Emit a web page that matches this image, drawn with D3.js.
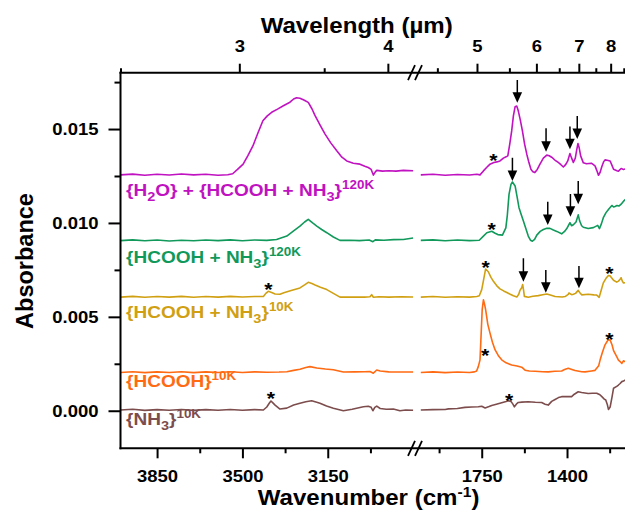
<!DOCTYPE html>
<html>
<head>
<meta charset="utf-8">
<script src="https://cdn.jsdelivr.net/npm/d3@7"></script>
<style>
  body { margin: 0; background: #fff; }
  svg { display: block; font-family: "Liberation Sans", Arial, sans-serif; font-weight: bold; }
</style>
</head>
<body>
<svg id="chart" width="625" height="513"></svg>
<script>
'use strict';

// ---- data (wavenumber cm-1, absorbance) ----
const h2oLeft = [[4000,.01256],[3950,.01260],[3900,.01254],[3850,.01259],[3800,.01255],[3750,.01261],[3700,.01256],[3650,.01259],[3600,.01254],[3560,.01257],[3540,.01262],[3520,.01285],[3497,.01313],[3477,.01360],[3457,.01410],[3436,.01480],[3416,.01544],[3398,.01570],[3380,.01589],[3356,.01606],[3332,.01624],[3305,.01643],[3290,.01660],[3278,.01667],[3264,.01664],[3248,.01655],[3230,.01642],[3215,.01608],[3202,.01571],[3182,.01522],[3161,.01473],[3137,.01425],[3113,.01384],[3092,.01350],[3072,.01330],[3045,.01318],[3018,.01313],[2998,.01302],[2984,.01295],[2972,.01285],[2963,.01255],[2955,.01272],[2949,.01280],[2925,.01276],[2900,.01278],[2870,.01276],[2840,.01280],[2800,.01278]];
const h2oRight = [[2000,.01256],[1950,.01259],[1900,.01254],[1850,.01258],[1800,.01255],[1770,.01259],[1757,.01256],[1743,.01277],[1730,.01295],[1716,.01313],[1700,.01322],[1688,.01325],[1675,.01330],[1661,.01345],[1650,.01352],[1643,.01357],[1635,.01420],[1627,.01490],[1620,.01570],[1613,.01619],[1606,.01622],[1600,.01597],[1592,.01550],[1583,.01490],[1574,.01420],[1565,.01366],[1556,.01320],[1548,.01286],[1540,.01272],[1532,.01268],[1522,.01285],[1511,.01313],[1497,.01345],[1483,.01361],[1473,.01358],[1463,.01350],[1450,.01335],[1436,.01322],[1425,.01310],[1415,.01298],[1405,.01312],[1397,.01330],[1388,.01370],[1381,.01345],[1374,.01322],[1366,.01345],[1360,.01390],[1355,.01423],[1350,.01400],[1344,.01357],[1333,.01320],[1320,.01315],[1300,.01318],[1285,.01304],[1278,.01280],[1271,.01254],[1264,.01270],[1257,.01300],[1250,.01325],[1244,.01336],[1235,.01334],[1223,.01330],[1215,.01305],[1209,.01286],[1195,.01278],[1189,.01276],[1178,.01290],[1168,.01285],[1160,.01288]];

const mix120Left = [[4000,.00906],[3950,.00910],[3900,.00905],[3850,.00909],[3800,.00904],[3750,.00908],[3700,.00905],[3650,.00909],[3600,.00906],[3550,.00910],[3500,.00905],[3450,.00909],[3400,.00907],[3360,.00912],[3318,.00930],[3290,.00958],[3264,.00983],[3245,.01005],[3230,.01019],[3212,.01000],[3195,.00983],[3175,.00965],[3154,.00948],[3127,.00925],[3100,.00907],[3060,.00908],[3020,.00906],[2980,.00909],[2965,.00900],[2955,.00910],[2920,.00908],[2880,.00911],[2840,.00912],[2800,.00920]];
const mix120Right = [[2000,.00907],[1950,.00910],[1900,.00905],[1850,.00909],[1800,.00906],[1760,.00908],[1743,.00930],[1729,.00948],[1709,.00956],[1695,.00945],[1684,.00938],[1665,.00935],[1651,.00974],[1645,.01040],[1638,.01152],[1630,.01205],[1624,.01218],[1613,.01197],[1605,.01140],[1597,.01081],[1588,.01045],[1579,.01010],[1570,.00975],[1559,.00930],[1550,.00908],[1542,.00903],[1533,.00912],[1524,.00935],[1510,.00955],[1497,.00965],[1483,.00972],[1470,.00971],[1456,.00962],[1442,.00955],[1422,.00942],[1410,.00955],[1401,.00970],[1388,.01001],[1381,.00985],[1374,.00990],[1363,.01005],[1354,.01043],[1348,.01010],[1340,.00985],[1333,.00977],[1313,.00970],[1292,.00975],[1274,.00987],[1267,.00970],[1259,.00995],[1251,.01028],[1240,.01055],[1230,.01072],[1216,.01093],[1209,.01085],[1203,.01088],[1195,.01093],[1187,.01090],[1178,.01100],[1168,.01116],[1160,.01125]];

const mix10Left = [[4000,.00605],[3950,.00609],[3900,.00604],[3850,.00608],[3800,.00605],[3750,.00609],[3700,.00604],[3650,.00608],[3600,.00605],[3550,.00609],[3500,.00606],[3450,.00608],[3414,.00608],[3404,.00625],[3394,.00636],[3380,.00630],[3366,.00622],[3346,.00620],[3330,.00628],[3300,.00640],[3264,.00654],[3245,.00670],[3230,.00684],[3215,.00678],[3202,.00670],[3180,.00658],[3154,.00645],[3127,.00625],[3100,.00605],[3050,.00606],[3000,.00605],[2977,.00607],[2970,.00618],[2963,.00604],[2940,.00607],[2900,.00605],[2850,.00607],[2800,.00606]];
const mix10Right = [[2000,.00605],[1950,.00608],[1900,.00604],[1850,.00607],[1800,.00605],[1770,.00608],[1760,.00612],[1750,.00645],[1742,.00700],[1734,.00755],[1723,.00740],[1712,.00710],[1702,.00689],[1688,.00665],[1675,.00649],[1660,.00638],[1647,.00630],[1633,.00620],[1620,.00612],[1606,.00606],[1598,.00620],[1593,.00641],[1586,.00655],[1582,.00672],[1578,.00640],[1575,.00609],[1559,.00604],[1540,.00610],[1518,.00613],[1500,.00618],[1483,.00622],[1465,.00615],[1449,.00608],[1420,.00606],[1408,.00608],[1395,.00620],[1392,.00627],[1381,.00618],[1374,.00620],[1365,.00625],[1354,.00641],[1348,.00630],[1340,.00617],[1313,.00620],[1290,.00617],[1278,.00616],[1268,.00604],[1260,.00640],[1251,.00681],[1240,.00705],[1230,.00720],[1223,.00718],[1209,.00695],[1196,.00685],[1189,.00690],[1182,.00700],[1178,.00708],[1173,.00690],[1168,.00680],[1160,.00682]];

const hcoohLeft = [[4000,.00204],[3950,.00208],[3900,.00203],[3850,.00207],[3800,.00204],[3750,.00208],[3700,.00203],[3650,.00207],[3600,.00204],[3550,.00208],[3500,.00204],[3450,.00207],[3400,.00205],[3350,.00206],[3318,.00208],[3290,.00215],[3264,.00221],[3240,.00230],[3223,.00235],[3195,.00228],[3160,.00222],[3127,.00218],[3100,.00210],[3086,.00206],[3040,.00207],[3000,.00208],[2977,.00209],[2963,.00200],[2949,.00217],[2935,.00212],[2900,.00207],[2850,.00206],[2800,.00206]];
const hcoohRight = [[2000,.00204],[1950,.00207],[1900,.00203],[1850,.00206],[1800,.00204],[1780,.00207],[1771,.00212],[1764,.00235],[1757,.00271],[1752,.00420],[1748,.00540],[1743,.00591],[1738,.00565],[1734,.00538],[1725,.00460],[1716,.00413],[1706,.00365],[1695,.00324],[1680,.00290],[1668,.00271],[1650,.00255],[1627,.00244],[1605,.00238],[1586,.00232],[1572,.00216],[1555,.00212],[1531,.00210],[1500,.00208],[1477,.00207],[1450,.00210],[1422,.00212],[1410,.00220],[1395,.00226],[1380,.00220],[1367,.00214],[1340,.00208],[1326,.00207],[1300,.00212],[1285,.00215],[1270,.00240],[1264,.00271],[1255,.00310],[1244,.00351],[1235,.00370],[1230,.00378],[1223,.00376],[1215,.00350],[1209,.00320],[1196,.00288],[1189,.00270],[1182,.00262],[1175,.00252],[1168,.00266],[1160,.00260]];

const nh3Left = [[4000,.00004],[3950,.00008],[3900,.00002],[3850,.00006],[3800,.00003],[3750,.00007],[3700,.00002],[3650,.00006],[3600,.00003],[3550,.00007],[3500,.00003],[3450,.00006],[3414,.00004],[3400,.00020],[3390,.00040],[3383,.00052],[3375,.00042],[3366,.00030],[3346,.00009],[3318,.00014],[3290,.00030],[3264,.00040],[3240,.00048],[3216,.00053],[3195,.00045],[3182,.00040],[3155,.00025],[3127,.00013],[3086,.00000],[3050,.00008],[3004,.00021],[2984,.00024],[2972,.00018],[2965,.00000],[2957,.00018],[2949,.00025],[2935,.00012],[2910,.00008],[2881,.00009],[2854,.00000],[2830,.00004],[2800,.00003]];
const nh3Right = [[2000,.00004],[1950,.00006],[1900,.00007],[1887,.00010],[1850,.00012],[1819,.00018],[1790,.00020],[1764,.00021],[1750,.00024],[1736,.00015],[1720,.00022],[1709,.00028],[1690,.00035],[1668,.00043],[1650,.00049],[1641,.00053],[1630,.00050],[1622,.00035],[1616,.00021],[1608,.00035],[1600,.00044],[1585,.00046],[1559,.00048],[1530,.00045],[1504,.00044],[1490,.00035],[1477,.00030],[1463,.00050],[1449,.00060],[1435,.00070],[1422,.00075],[1400,.00076],[1381,.00075],[1370,.00088],[1354,.00101],[1340,.00097],[1313,.00092],[1296,.00093],[1278,.00093],[1265,.00085],[1257,.00075],[1247,.00062],[1241,.00057],[1235,.00035],[1230,.00007],[1223,.00020],[1215,.00075],[1209,.00120],[1196,.00130],[1189,.00137],[1182,.00145],[1175,.00155],[1168,.00158],[1160,.00165]];

const seriesColors = ["#c012c0", "#11995b", "#d0a012", "#ff6a12", "#7d4d4d"];
const seriesLabels = [
    [["{H",""],["2","sub"],["O} + {HCOOH + NH",""],["3","sub"],["}",""],["120K","sup"]],
    [["{HCOOH + NH",""],["3","sub"],["}",""],["120K","sup"]],
    [["{HCOOH + NH",""],["3","sub"],["}",""],["10K","sup"]],
    [["{HCOOH}",""],["10K","sup"]],
    [["{NH",""],["3","sub"],["}",""],["10K","sup"]],
];

// stars: [wavenumber, absorbance, panel]
const stars = [[3394,.00669,"L"],[3383,.00084,"L"],[1702,.01353,"R"],[1709,.00989,"R"],[1734,.00785,"R"],[1226,.00753,"R"],[1736,.00314,"R"],[1226,.00403,"R"],[1637,.00078,"R"]];
// arrows: [wavenumber, top, tip]
const arrows = [[1604,.01761,.01640],[1486,.01504,.01379],[1388,.01513,.01392],[1358,.01569,.01447],
                [1624,.01347,.01223],[1479,.01113,.00989],[1386,.01154,.01033],[1354,.01223,.01099],
                [1579,.00812,.00687],[1487,.00749,.00628],[1351,.00771,.00652]];

const leftMajor = [3850, 3500, 3150], leftMinor = [3675, 3325, 2975];
const rightMajor = [1750, 1400], rightMinor = [1925, 1575, 1225];
const topMajorUm = [3, 4, 5, 6, 7, 8], topMinorUm = [2.5, 3.5, 4.5, 5.5, 6.5, 7.5, 8.5];
const yMajor = [0, 0.005, 0.010, 0.015], yMinor = [0.0025, 0.0075, 0.0125, 0.0175];

(() => {
    const SX = 1.12; // the reference text is a little wide
    const svg = d3.select("#chart");
    const frame = {left: 120.5, right: 626, top: 72.7, bottom: 448.3};

    const y = d3.scaleLinear().domain([-0.002, 0.018]).range([frame.bottom, frame.top]);
    const xL = d3.scaleLinear().domain([4000, 2800]).range([frame.left, 413.1]);
    const xR = d3.scaleLinear().domain([2000, 1160]).range([420.8, 625.5]);
    const xTop = d3.scaleLinear().domain([4000, 1160]).range([frame.left, 626.7]);

    const series = [
        [h2oLeft, h2oRight], [mix120Left, mix120Right], [mix10Left, mix10Right],
        [hcoohLeft, hcoohRight], [nh3Left, nh3Right],
    ];
    const labelDy = [21, 22.3, 21, 14.4, 15];

    // spectra
    series.forEach(([L, R], i) => {
        [[L, xL], [R, xR]].forEach(([data, xs]) => {
            svg.append("path")
                .attr("fill", "none")
                .attr("stroke", seriesColors[i])
                .attr("stroke-width", 1.6)
                .attr("stroke-linejoin", "round")
                .attr("d", d3.line().x(d => xs(d[0])).y(d => y(d[1]))(data));
        });
        const t = svg.append("text")
            .attr("fill", seriesColors[i])
            .attr("font-size", 17)
            .attr("transform", `translate(126,${y(L[0][1]) + labelDy[i]}) scale(${SX},1)`);
        let shift = 0;
        seriesLabels[i].forEach(([txt, kind]) => {
            const target = kind == "sub" ? 5 : kind == "sup" ? -6.8 : 0;
            t.append("tspan")
                .attr("dy", target - shift)
                .attr("font-size", kind == "sub" ? 13 : kind == "sup" ? 12 : 17)
                .text(txt);
            shift = target;
        });
    });

    // stars and arrows
    svg.selectAll(".star").data(stars).enter().append("text")
        .attr("class", "star")
        .attr("text-anchor", "middle")
        .attr("font-size", 19)
        .attr("transform", d => `translate(${(d[2] == "L" ? xL : xR)(d[0])},${y(d[1]) + 10.5}) scale(${SX},1)`)
        .text("*");
    const ag = svg.selectAll(".arrow").data(arrows).enter().append("g").attr("class", "arrow");
    ag.append("line")
        .attr("x1", d => xR(d[0])).attr("x2", d => xR(d[0]))
        .attr("y1", d => y(d[1])).attr("y2", d => y(d[2]) - 8)
        .attr("stroke", "#000").attr("stroke-width", 1.5);
    ag.append("path")
        .attr("fill", "#000")
        .attr("d", d => {
            const x = xR(d[0]), t = y(d[2]);
            return `M${x},${t}L${x - 4.8},${t - 10.5}L${x + 4.8},${t - 10.5}Z`;
        });

    // frame
    const lines = [
        [frame.left, frame.top, frame.left, frame.bottom],
        [frame.left, frame.top, frame.right, frame.top],
        [frame.left, frame.bottom, frame.right, frame.bottom],
    ];
    lines.forEach(l => svg.append("line")
        .attr("x1", l[0]).attr("y1", l[1]).attr("x2", l[2]).attr("y2", l[3])
        .attr("stroke", "#000").attr("stroke-width", 2).attr("stroke-linecap", "square"));

    function styleAxis(g) {
        g.select(".domain").remove();
        g.selectAll("line").attr("stroke", "#000").attr("stroke-width", 2);
        g.selectAll("text").attr("font-size", 16.5).attr("font-family", null).attr("fill", "#000");
    }

    // bottom axes
    [[xL, leftMajor, leftMinor], [xR, rightMajor, rightMinor]].forEach(([xs, maj, min]) => {
        svg.append("g").attr("transform", `translate(0,${frame.bottom})`)
            .call(d3.axisBottom(xs).tickValues(maj).tickSize(10).tickPadding(11.6).tickSizeOuter(0).tickFormat(d3.format("d")))
            .call(styleAxis)
            .selectAll("text").attr("dy", "0.71em").attr("transform", `scale(${SX},1)`);
        svg.append("g").attr("transform", `translate(0,${frame.bottom})`)
            .call(d3.axisBottom(xs).tickValues(min).tickSize(5).tickFormat(""))
            .call(styleAxis);
    });

    // top axis, wavelength in µm
    svg.append("g").attr("transform", `translate(0,${frame.top})`)
        .call(d3.axisTop(xTop).tickValues(topMajorUm.map(u => 1e4 / u)).tickSize(9).tickPadding(12)
            .tickFormat((d, i) => topMajorUm[i]))
        .call(styleAxis)
        .selectAll("text").attr("transform", `scale(${SX},1)`);
    svg.append("g").attr("transform", `translate(0,${frame.top})`)
        .call(d3.axisTop(xTop).tickValues(topMinorUm.map(u => 1e4 / u)).tickSize(4.5).tickFormat(""))
        .call(styleAxis);

    // left axis
    svg.append("g").attr("transform", `translate(${frame.left},0)`)
        .call(d3.axisLeft(y).tickValues(yMajor).tickSize(12).tickFormat(d3.format(".3f")))
        .call(styleAxis)
        .selectAll("text").attr("x", -22 / SX).attr("dy", "0.34em").attr("transform", `scale(${SX},1)`);
    svg.append("g").attr("transform", `translate(${frame.left},0)`)
        .call(d3.axisLeft(y).tickValues(yMinor).tickSize(6).tickFormat(""))
        .call(styleAxis);

    // axis break marks
    [frame.top, frame.bottom].forEach(yy => {
        [411.5, 418.5].forEach(xx => {
            svg.append("line")
                .attr("x1", xx - 3.5).attr("y1", yy + 7.5)
                .attr("x2", xx + 3.5).attr("y2", yy - 7.5)
                .attr("stroke", "#000").attr("stroke-width", 1.8);
        });
    });

    // titles
    svg.append("text")
        .attr("text-anchor", "middle").attr("font-size", 21.5)
        .attr("transform", `translate(356.7,33) scale(${SX},1)`)
        .text("Wavelength (µm)");
    const xt = svg.append("text")
        .attr("text-anchor", "middle").attr("font-size", 21.5)
        .attr("transform", `translate(368.6,505) scale(${SX},1)`);
    xt.append("tspan").text("Wavenumber (cm");
    xt.append("tspan").attr("font-size", 14).attr("dy", -8.5).text("-1");
    xt.append("tspan").attr("dy", 8.5).text(")");
    svg.append("text")
        .attr("text-anchor", "middle").attr("font-size", 23.5)
        .attr("transform", "translate(33,261) rotate(-90)")
        .text("Absorbance");
})();
</script>
</body>
</html>
